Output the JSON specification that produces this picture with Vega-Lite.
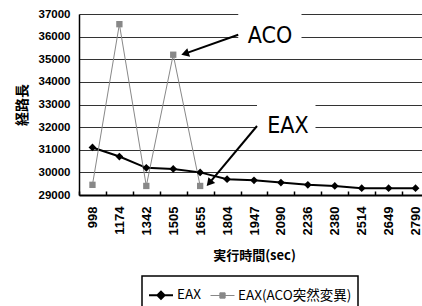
{
  "$schema": "https://vega.github.io/schema/vega-lite/v6.json",
  "width": 343,
  "height": 181,
  "autosize": {"type": "none"},
  "padding": {"left": 79, "top": 14, "right": 0, "bottom": 111},
  "background": "white",
  "config": {"view": {"stroke": null}, "font": "Liberation Sans"},
  "datasets": {
    "main": [
      {"time": "998", "series": "EAX", "len": 31100},
      {"time": "1174", "series": "EAX", "len": 30700},
      {"time": "1342", "series": "EAX", "len": 30200},
      {"time": "1505", "series": "EAX", "len": 30150},
      {"time": "1655", "series": "EAX", "len": 30000},
      {"time": "1804", "series": "EAX", "len": 29700},
      {"time": "1947", "series": "EAX", "len": 29650},
      {"time": "2090", "series": "EAX", "len": 29550},
      {"time": "2236", "series": "EAX", "len": 29450},
      {"time": "2380", "series": "EAX", "len": 29400},
      {"time": "2514", "series": "EAX", "len": 29300},
      {"time": "2649", "series": "EAX", "len": 29300},
      {"time": "2790", "series": "EAX", "len": 29300},
      {"time": "998", "series": "EAX(ACO突然変異)", "len": 29450},
      {"time": "1174", "series": "EAX(ACO突然変異)", "len": 36550},
      {"time": "1342", "series": "EAX(ACO突然変異)", "len": 29400},
      {"time": "1505", "series": "EAX(ACO突然変異)", "len": 35200},
      {"time": "1655", "series": "EAX(ACO突然変異)", "len": 29400}
    ],
    "boxes": [
      {"x": 5.37, "x2": 7.9, "y": 35400, "y2": 37100},
      {"x": 6.12, "x2": 8.46, "y": 31400, "y2": 33450}
    ],
    "arrows": [
      {"x": 5.37, "y": 36080, "x2": 3.24, "y2": 35248, "angle": 252},
      {"x": 6.12, "y": 32050, "x2": 4.21, "y2": 29527, "angle": 221}
    ],
    "notes": [
      {"label": "ACO", "x": 5.75, "y": 36035},
      {"label": "EAX", "x": 6.53, "y": 32050}
    ]
  },
  "layer": [
    {
      "data": {"name": "main"},
      "encoding": {
        "x": {
          "field": "time", "type": "ordinal", "sort": null,
          "scale": {"type": "band", "paddingInner": 0, "paddingOuter": 0, "range": [0, 350]},
          "axis": {
            "title": "実行時間(sec)", "titleFont": "Noto Sans CJK JP", "titleFontSize": 13, "titleFontWeight": "bold", "titleColor": "black", "titlePadding": 15,
            "labelAngle": -90, "labelFont": "Liberation Sans", "labelFontSize": 13, "labelFontWeight": "bold", "labelColor": "black", "labelPadding": 15, "labelOverlap": false,
            "tickBand": "extent", "tickSize": -4, "tickColor": "black", "tickWidth": 1.5,
            "domainColor": "black", "domainWidth": 2, "grid": false
          }
        },
        "y": {
          "field": "len", "type": "quantitative",
          "scale": {"domain": [29000, 37000], "nice": false, "zero": false},
          "axis": {
            "title": "経路長", "titleFont": "Noto Sans CJK JP", "titleFontSize": 14, "titleFontWeight": "bold", "titleColor": "black", "titlePadding": 9,
            "values": [29000, 30000, 31000, 32000, 33000, 34000, 35000, 36000, 37000], "labelOverlap": false,
            "format": "d", "labelFontSize": 11.5, "labelFontWeight": "bold", "labelColor": "black", "labelPadding": 9,
            "ticks": false, "domainColor": "black", "domainWidth": 1.5,
            "grid": true, "gridColor": "#333333", "gridWidth": 1
          }
        }
      },
      "layer": [
        {
          "mark": {"type": "line"},
          "encoding": {
            "color": {
              "field": "series", "type": "nominal",
              "scale": {"domain": ["EAX", "EAX(ACO突然変異)"], "range": ["black", "#888888"]},
              "legend": {
                "orient": "none", "legendX": 63, "legendY": 262, "direction": "horizontal", "title": null,
                "strokeColor": "black", "padding": 6, "fillColor": "white",
                "labelFont": "Noto Sans CJK JP", "labelFontSize": 13.5, "labelColor": "black",
                "symbolSize": 576, "symbolStrokeWidth": 1.5, "columnPadding": 7, "labelOffset": 3,
                "encode": {
                  "legend": {"update": {"strokeWidth": {"value": 1.5}}},
                  "symbols": {
                    "update": {
                      "shape": {"signal": "datum.value === 'EAX' ? 'M-1,0H1M0,-0.3L0.3,0L0,0.3L-0.3,0Z' : 'M-1,0H1M-0.22,-0.22H0.22V0.22H-0.22Z'"},
                      "fill": {"signal": "datum.value === 'EAX' ? 'black' : '#888888'"},
                      "stroke": {"signal": "datum.value === 'EAX' ? 'black' : '#888888'"},
                      "opacity": {"value": 1}
                    }
                  }
                }
              }
            },
            "strokeWidth": {"field": "series", "type": "nominal", "scale": {"domain": ["EAX", "EAX(ACO突然変異)"], "range": [2, 1]}, "legend": null}
          }
        },
        {
          "transform": [{"filter": "datum.series === 'EAX'"}],
          "mark": {"type": "point", "shape": "diamond", "filled": true, "opacity": 1, "color": "black", "size": 60}
        },
        {
          "transform": [{"filter": "datum.series !== 'EAX'"}],
          "mark": {"type": "point", "shape": "square", "filled": true, "opacity": 1, "color": "#888888", "size": 40}
        }
      ]
    },
    {
      "layer": [
        {
          "data": {"name": "boxes"},
          "mark": {"type": "rect", "color": "white"},
          "encoding": {
            "x": {"field": "x", "type": "quantitative", "scale": {"domain": [-0.5, 12.5], "range": [0, 350]}, "axis": null},
            "x2": {"field": "x2"},
            "y": {"field": "y", "type": "quantitative", "scale": {"domain": [29000, 37000], "nice": false, "zero": false}, "axis": null},
            "y2": {"field": "y2"}
          }
        },
        {
          "data": {"name": "arrows"},
          "mark": {"type": "rule", "color": "black", "strokeWidth": 2},
          "encoding": {
            "x": {"field": "x", "type": "quantitative", "axis": null},
            "x2": {"field": "x2"},
            "y": {"field": "y", "type": "quantitative", "axis": null},
            "y2": {"field": "y2"}
          }
        },
        {
          "data": {"name": "arrows"},
          "mark": {"type": "point", "shape": "triangle-up", "filled": true, "color": "black", "size": 80, "opacity": 1},
          "encoding": {
            "x": {"field": "x2", "type": "quantitative", "axis": null},
            "y": {"field": "y2", "type": "quantitative", "axis": null},
            "angle": {"field": "angle", "type": "quantitative", "scale": null}
          }
        },
        {
          "data": {"name": "notes"},
          "mark": {"type": "text", "align": "left", "baseline": "middle", "font": "'DejaVu Sans Condensed', 'Liberation Sans', sans-serif", "fontSize": 23, "color": "black"},
          "encoding": {
            "x": {"field": "x", "type": "quantitative", "axis": null},
            "y": {"field": "y", "type": "quantitative", "axis": null},
            "text": {"field": "label"}
          }
        }
      ]
    }
  ],
  "resolve": {"scale": {"x": "independent", "y": "independent"}}
}
